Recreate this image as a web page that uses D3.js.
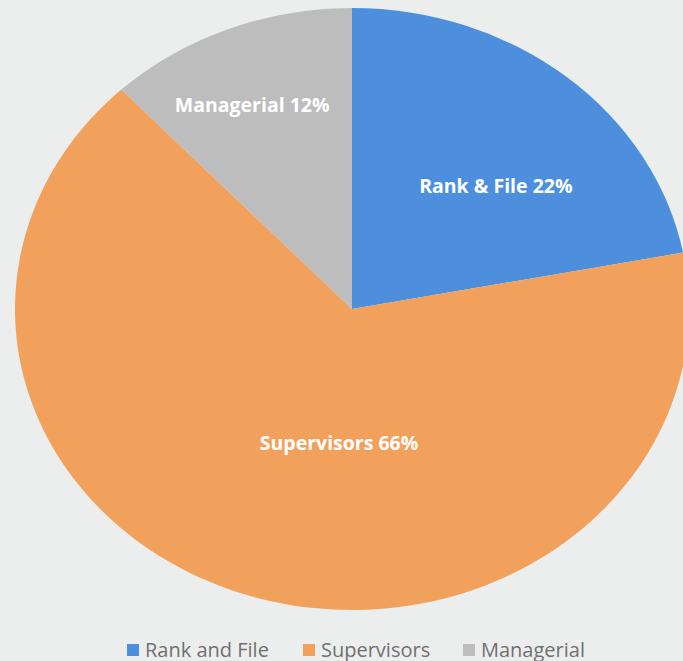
<!DOCTYPE html>
<html>
<head>
<meta charset="utf-8">
<script src="https://cdn.jsdelivr.net/npm/d3@7"></script>
<style>
  body { margin: 0; background: #eceeed; }
  svg { display: block; }
</style>
</head>
<body>
<svg id="chart" width="683" height="661"></svg>
<script>
const categories = ["Rank and File", "Supervisors", "Managerial"];
const sliceLabels = ["Rank & File", "Supervisors", "Managerial"];
const shares = [22, 66, 12];
const colors = ["#4d8fdd", "#f2a15c", "#bdbdbd"];

const width = 683;
const height = 661;
const cx = 352, cy = 309;
const ry = 301;
const stretch = 337 / 301; // picture is a bit wider than tall

const svg = d3.select("#chart");

const data = categories.map((c, i) => ({ name: c, label: sliceLabels[i], value: shares[i] }));

const pie = d3.pie().sort(null).value((d) => d.value);
const arcs = pie(data);
const arc = d3.arc().innerRadius(0).outerRadius(ry);

const color = d3.scaleOrdinal().domain(categories).range(colors);

svg.append("g")
  .attr("transform", `translate(${cx},${cy}) scale(${stretch},1)`)
  .selectAll("path")
  .data(arcs)
  .join("path")
  .attr("d", arc)
  .attr("fill", (d) => color(d.data.name));

// excel "best fit" label spots: fraction of radius, fraction along the slice
const labelRadius = [0.59, 0.447, 0.74];
const labelAlong = [0.585, 0.445, 0.454];
const labelAngle = (d, i) => d.startAngle + (d.endAngle - d.startAngle) * labelAlong[i];

svg.append("g")
  .selectAll("text")
  .data(arcs)
  .join("text")
  .attr("x", (d, i) => cx + Math.sin(labelAngle(d, i)) * ry * labelRadius[i] * stretch)
  .attr("y", (d, i) => cy - Math.cos(labelAngle(d, i)) * ry * labelRadius[i])
  .attr("text-anchor", "middle")
  .attr("dy", "0.35em")
  .style("font-family", "'Open Sans', sans-serif")
  .style("font-weight", "bold")
  .style("font-size", "19.5px")
  .style("fill", "#ffffff")
  .text((d) => `${d.data.label} ${d.data.value}%`);

// legend
const legendX = [127, 303, 463];
const legend = svg.append("g")
  .selectAll("g")
  .data(categories)
  .join("g")
  .attr("transform", (d, i) => `translate(${legendX[i]},644)`);

legend.append("rect")
  .attr("width", 12)
  .attr("height", 12)
  .attr("fill", (d) => color(d));

legend.append("text")
  .attr("x", 18)
  .attr("y", 12.5)
  .style("font-family", "'Open Sans', sans-serif")
  .style("font-size", "20px")
  .style("fill", "#707070")
  .text((d) => d);
</script>
</body>
</html>
